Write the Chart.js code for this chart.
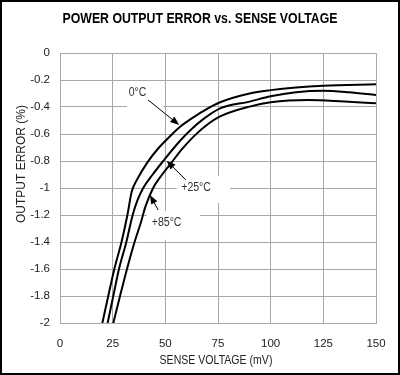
<!DOCTYPE html>
<html>
<head>
<meta charset="utf-8">
<title>Power output error vs. sense voltage</title>
<script src="https://cdn.jsdelivr.net/npm/chart.js@4/dist/chart.umd.min.js"></script>
<style>
  body { margin: 0; background: #fff; }
  #box { width: 400px; height: 375px; }
</style>
</head>
<body>
<div id="box"><canvas id="chart1" width="400" height="375"></canvas></div>
<script>
'use strict'

// sense voltage (mV) / output error (%)
var x0C = [20.1, 22.9, 25.8, 29.2, 32, 34, 36.5, 41.5, 47, 52, 57, 62, 68, 76, 90, 100, 112, 125, 150];
var y0C = [-2, -1.8, -1.6, -1.4, -1.2, -1.03, -0.94, -0.81, -0.70, -0.62, -0.546, -0.49, -0.43, -0.365, -0.30, -0.275, -0.255, -0.242, -0.232];

var x25C = [22.6, 25.3, 28, 31.5, 34.5, 36.8, 39.5, 44, 49, 57, 62, 68, 76, 90, 100, 112, 125, 137, 150];
var y25C = [-2, -1.8, -1.6, -1.4, -1.2, -1.09, -1.0, -0.9, -0.8, -0.65, -0.57, -0.49, -0.41, -0.36, -0.32, -0.29, -0.279, -0.29, -0.311];

var x85C = [25.3, 28.5, 31.8, 35.4, 38.5, 40.5, 44.2, 48.5, 53, 58, 64, 70, 76, 90, 100, 118, 135, 150];
var y85C = [-2, -1.8, -1.6, -1.4, -1.25, -1.14, -1.0, -0.9, -0.81, -0.71, -0.61, -0.53, -0.47, -0.397, -0.365, -0.348, -0.36, -0.373];

var xTicks = [0, 25, 50, 75, 100, 125, 150];
var yTicks = [0, -0.2, -0.4, -0.6, -0.8, -1, -1.2, -1.4, -1.6, -1.8, -2];

var title = 'POWER OUTPUT ERROR vs. SENSE VOLTAGE';
var xTitle = 'SENSE VOLTAGE (mV)';
var yTitle = 'OUTPUT ERROR (%)';

// curve labels: text spot, arrow start, arrow tip, white box (all in data units)
var notes = [
  { text: '0°C', at: [36.8, -0.296], from: [41.8, -0.348], to: [56.6, -0.533], box: [31.8, -0.215, 48.9, -0.407] },
  { text: '+25°C', at: [64.6, -1.0], from: [59.8, -0.941], to: [50.6, -0.798], box: [55.5, -0.911, 80.7, -1.111] },
  { text: '+85°C', at: [50.6, -1.259], from: [46.6, -1.163], to: [42.7, -1.052], box: [41.3, -1.17, 66.5, -1.385] }
];

var FONT = '"Liberation Sans", Arial, sans-serif';

function pts(xs, ys) {
  var out = [];
  for (var i = 0; i < xs.length; i++) {
    out.push({ x: xs[i], y: ys[i] });
  }
  return out;
}

function line(label, xs, ys) {
  return {
    label: label,
    data: pts(xs, ys),
    borderColor: '#000',
    borderWidth: 2,
    pointRadius: 0,
    fill: false,
    cubicInterpolationMode: 'monotone'
  };
}

function arrow(ctx, x1, y1, x2, y2) {
  var a = Math.atan2(y2 - y1, x2 - x1);
  ctx.beginPath();
  ctx.moveTo(x1, y1);
  ctx.lineTo(x2 - 6 * Math.cos(a), y2 - 6 * Math.sin(a));
  ctx.stroke();
  ctx.beginPath();
  ctx.moveTo(x2, y2);
  ctx.lineTo(x2 - 9 * Math.cos(a) + 3.5 * Math.sin(a), y2 - 9 * Math.sin(a) - 3.5 * Math.cos(a));
  ctx.lineTo(x2 - 9 * Math.cos(a) - 3.5 * Math.sin(a), y2 - 9 * Math.sin(a) + 3.5 * Math.cos(a));
  ctx.closePath();
  ctx.fill();
}

// text squeezed sideways, the original type is a narrow face
function narrowText(ctx, text, x, y, k) {
  ctx.save();
  ctx.translate(x, y);
  ctx.scale(k, 1);
  ctx.fillText(text, 0, 0);
  ctx.restore();
}

/////////////////////////////////////////////////////////////////
// draws title, axis titles, the label boxes/arrows and the outer frame
var extras = {
  id: 'extras',
  beforeDatasetsDraw: function (chart) {
    var ctx = chart.ctx, sx = chart.scales.x, sy = chart.scales.y;
    ctx.save();
    ctx.fillStyle = '#fff';
    notes.forEach(function (n) {
      var l = sx.getPixelForValue(n.box[0]), t = sy.getPixelForValue(n.box[1]);
      var r = sx.getPixelForValue(n.box[2]), b = sy.getPixelForValue(n.box[3]);
      ctx.fillRect(l, t, r - l, b - t);
    });
    ctx.restore();
  },
  afterDraw: function (chart) {
    var ctx = chart.ctx, sx = chart.scales.x, sy = chart.scales.y;
    ctx.save();
    ctx.fillStyle = '#000';
    ctx.textAlign = 'center';
    ctx.textBaseline = 'middle';
    ctx.font = 'bold 15px ' + FONT;
    narrowText(ctx, title, 200, 19, 0.82);

    ctx.font = '12px ' + FONT;
    ctx.fillStyle = '#222';
    ctx.save();
    ctx.translate(22, 164);
    ctx.rotate(-Math.PI / 2);
    ctx.fillText(yTitle, 0, 0);
    ctx.restore();
    narrowText(ctx, xTitle, 216, 361, 0.88);

    ctx.strokeStyle = '#000';
    ctx.lineWidth = 1;
    ctx.font = '12px ' + FONT;
    notes.forEach(function (n) {
      ctx.fillStyle = '#333';
      narrowText(ctx, n.text, sx.getPixelForValue(n.at[0]), sy.getPixelForValue(n.at[1]), 0.88);
      ctx.fillStyle = '#000';
      arrow(ctx, sx.getPixelForValue(n.from[0]), sy.getPixelForValue(n.from[1]),
        sx.getPixelForValue(n.to[0]), sy.getPixelForValue(n.to[1]));
    });

    ctx.strokeStyle = '#000';
    ctx.lineWidth = 2;
    ctx.strokeRect(1, 1, 398, 373);
    ctx.restore();
  }
};

/////////////////////////////////////////////////////////////////
function makeChart() {
  var ctx = document.getElementById('chart1').getContext('2d');
  return new Chart(ctx, {
    type: 'line',
    data: {
      datasets: [line('0°C', x0C, y0C), line('+25°C', x25C, y25C), line('+85°C', x85C, y85C)]
    },
    options: {
      responsive: false,
      animation: false,
      layout: { padding: { left: 0, right: 24, top: 53, bottom: 0 } },
      plugins: { legend: { display: false }, tooltip: { enabled: false } },
      scales: {
        x: {
          type: 'linear',
          min: 0,
          max: 150,
          afterFit: function (s) { s.height = 52; },
          afterBuildTicks: function (s) { s.ticks = xTicks.map(function (v) { return { value: v }; }); },
          grid: { color: '#a8a8a8', lineWidth: 1, drawTicks: false },
          border: { color: '#a8a8a8' },
          ticks: { color: '#222', padding: 14, maxRotation: 0, font: { family: FONT, size: 11.5 } }
        },
        y: {
          type: 'linear',
          min: -2,
          max: 0,
          afterFit: function (s) { s.width = 60; },
          afterBuildTicks: function (s) { s.ticks = yTicks.map(function (v) { return { value: v }; }); },
          grid: { color: '#a8a8a8', lineWidth: 1, drawTicks: false },
          border: { color: '#a8a8a8' },
          ticks: {
            color: '#222',
            padding: 10,
            font: { family: FONT, size: 11.5 },
            callback: function (v) { return String(+v.toFixed(1)); }
          }
        }
      }
    },
    plugins: [extras]
  });
}

makeChart();
</script>
</body>
</html>
